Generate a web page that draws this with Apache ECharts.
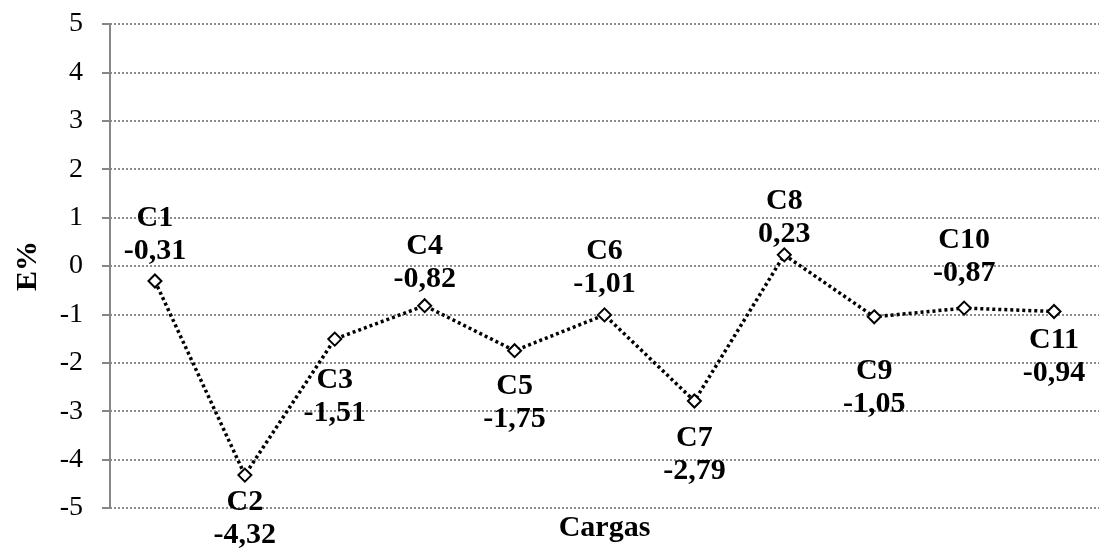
<!DOCTYPE html>
<html>
<head>
<meta charset="utf-8">
<script src="https://cdn.jsdelivr.net/npm/echarts@6/dist/echarts.min.js"></script>
<style>
  html, body { margin: 0; padding: 0; background: #fff; }
  #main { width: 1099px; height: 548px; }
</style>
</head>
<body>
<div id="main"></div>
<script>
// categorias e valores E%
var cargas = ['C1', 'C2', 'C3', 'C4', 'C5', 'C6', 'C7', 'C8', 'C9', 'C10', 'C11'];
var erros = [-0.31, -4.32, -1.51, -0.82, -1.75, -1.01, -2.79, 0.23, -1.05, -0.87, -0.94];
var yTicks = [-5, -4, -3, -2, -1, 0, 1, 2, 3, 4, 5];

// rotulos: lado (acima / abaixo) e afastamento do ponto, como no original
var labelSide = ['top', 'bottom', 'bottom', 'top', 'bottom', 'top', 'bottom', 'top', 'bottom', 'top', 'bottom'];
var labelDist = [6, 3, 17, 2, 12, 7, 13, -3, 30, 11, 5];

var serif = '"Liberation Serif", "Times New Roman", serif';

var chart = echarts.init(document.getElementById('main'), null, { renderer: 'canvas' });

var seriesData = erros.map(function (v, i) {
  return {
    value: v,
    label: { position: labelSide[i], distance: labelDist[i] }
  };
});

var option = {
  animation: false,
  backgroundColor: '#fff',
  grid: { left: 110, top: 24, width: 1000, bottom: 39, containLabel: false },
  xAxis: {
    type: 'category',
    data: cargas,
    boundaryGap: true,
    name: 'Cargas',
    nameLocation: 'middle',
    nameGap: 5,
    nameTextStyle: {
      fontFamily: serif, fontWeight: 'bold', fontSize: 30, color: '#000',
      verticalAlign: 'top'
    },
    axisLine: { show: false },
    axisTick: { show: false },
    axisLabel: { show: false },
    splitLine: { show: false }
  },
  yAxis: {
    type: 'value',
    min: yTicks[0],
    max: yTicks[yTicks.length - 1],
    interval: 1,
    name: 'E%',
    nameLocation: 'middle',
    nameGap: 67,
    nameRotate: 90,
    nameTextStyle: { fontFamily: serif, fontWeight: 'bold', fontSize: 30, color: '#000' },
    axisLine: { show: true, lineStyle: { color: '#868686', width: 2 } },
    axisTick: { show: true, inside: false, length: 8, lineStyle: { color: '#868686', width: 2 } },
    axisLabel: { fontFamily: serif, fontSize: 28, color: '#000', margin: 27 },
    splitLine: { show: true, lineStyle: { color: '#8c8c8c', width: 2, type: [2, 2] } }
  },
  series: [{
    type: 'line',
    data: seriesData,
    symbol: 'diamond',
    symbolSize: 13,
    showAllSymbol: true,
    itemStyle: { color: '#fff', borderColor: '#000', borderWidth: 2 },
    lineStyle: { color: '#000', width: 3.5, type: [3, 3] },
    label: {
      show: true,
      fontFamily: serif,
      fontWeight: 'bold',
      fontSize: 30,
      lineHeight: 33,
      color: '#000',
      align: 'center',
      formatter: function (p) {
        return p.name + '\n' + p.value.toFixed(2).replace('.', ',');
      }
    },
    z: 3
  }]
};

chart.setOption(option);
</script>
</body>
</html>
